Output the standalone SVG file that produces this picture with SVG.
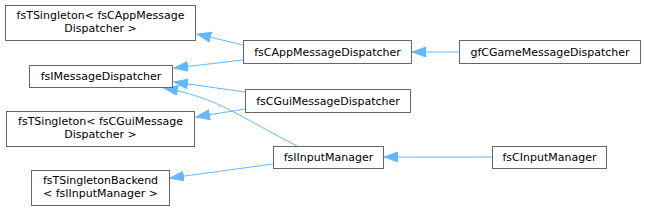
<svg xmlns="http://www.w3.org/2000/svg" width="645" height="211" viewBox="0 0 645 211">
<style>
.n rect{fill:#fff;stroke:#666;stroke-width:1}
.n text{font-family:"DejaVu Sans",sans-serif;font-size:11px;fill:#000;text-anchor:middle}
.e path{fill:none;stroke:#63b8ff;stroke-width:1}
</style>
<defs>
<marker id="ah" markerUnits="userSpaceOnUse" markerWidth="16" markerHeight="12" refX="14" refY="5" orient="auto">
<path d="M0,0 L14,5 L0,10 z" fill="#63b8ff" stroke="#63b8ff"/>
</marker>
</defs>
<rect width="645" height="211" fill="#fff"/>
<g id="edges" class="e">
<path d="M243,45 L197,34" marker-end="url(#ah)"/>
<path d="M243,60 L174,68" marker-end="url(#ah)"/>
<path d="M245,92 L174,82" marker-end="url(#ah)"/>
<path d="M245,109 L196,117" marker-end="url(#ah)"/>
<path d="M297,146 C262,128 236,112 215,103 C196,95 180,91 164,88" marker-end="url(#ah)"/>
<path d="M273,164 L170,178" marker-end="url(#ah)"/>
<path d="M459,52 L412,52" marker-end="url(#ah)"/>
<path d="M493,157 L384,157" marker-end="url(#ah)"/>
</g>
<g id="n1" class="n"><rect x="5.5" y="5.5" width="190" height="35"/><text x="100.5" y="19">fsTSingleton&lt; fsCAppMessage</text><text x="100.5" y="32">Dispatcher &gt;</text></g>
<g id="n2" class="n"><rect x="29.5" y="65.5" width="143" height="22"/><text x="101" y="80">fsIMessageDispatcher</text></g>
<g id="n3" class="n"><rect x="6.5" y="111.5" width="188" height="35"/><text x="100.5" y="125">fsTSingleton&lt; fsCGuiMessage</text><text x="100.5" y="138">Dispatcher &gt;</text></g>
<g id="n4" class="n"><rect x="31.5" y="170.5" width="138" height="35"/><text x="100.5" y="184">fsTSingletonBackend</text><text x="100.5" y="197">&lt; fsIInputManager &gt;</text></g>
<g id="n5" class="n"><rect x="243.5" y="40.5" width="168" height="23"/><text x="327.5" y="56">fsCAppMessageDispatcher</text></g>
<g id="n6" class="n"><rect x="245.5" y="89.5" width="165" height="23"/><text x="328" y="105">fsCGuiMessageDispatcher</text></g>
<g id="n7" class="n"><rect x="273.5" y="146.5" width="110" height="22"/><text x="328.5" y="161">fsIInputManager</text></g>
<g id="n8" class="n"><rect x="459.5" y="40.5" width="181" height="23"/><text x="550" y="56">gfCGameMessageDispatcher</text></g>
<g id="n9" class="n"><rect x="492.5" y="146.5" width="114" height="22"/><text x="549.5" y="161">fsCInputManager</text></g>
</svg>
